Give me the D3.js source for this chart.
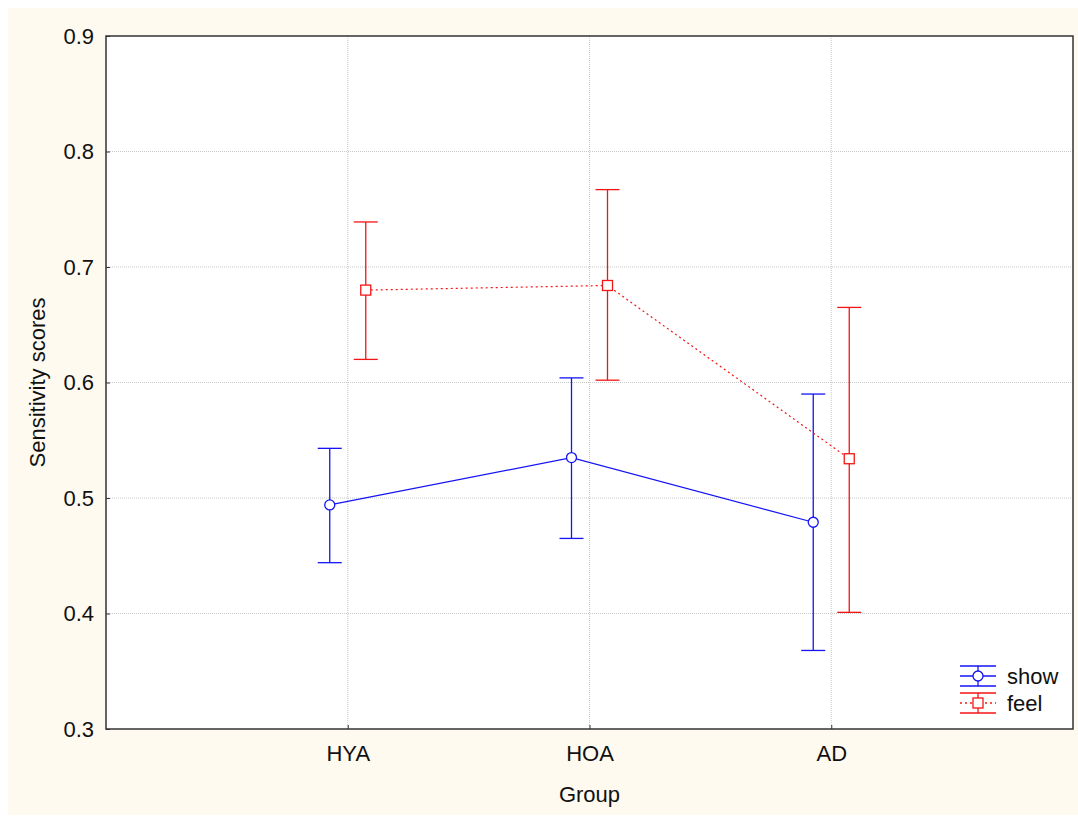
<!DOCTYPE html>
<html>
<head>
<meta charset="utf-8">
<script src="https://cdn.jsdelivr.net/npm/d3@7"></script>
<style>
  body { margin: 0; background: #fff; }
  text { font-family: "Liberation Sans", Arial, sans-serif; fill: #111; }
</style>
</head>
<body>
<div id="chart"></div>
<script>
//Datos
const groups = ['HYA', 'HOA', 'AD'];
const yTicks = [0.3, 0.4, 0.5, 0.6, 0.7, 0.8, 0.9];

const showMean = [0.494, 0.535, 0.479];
const showLow = [0.444, 0.465, 0.368];
const showHigh = [0.543, 0.604, 0.590];

const feelMean = [0.680, 0.684, 0.534];
const feelLow = [0.620, 0.602, 0.401];
const feelHigh = [0.739, 0.767, 0.665];

const series = [
    {name: 'show', mean: showMean, low: showLow, high: showHigh, color: '#1414f5', dash: null, shape: 'circle', offset: -18},
    {name: 'feel', mean: feelMean, low: feelLow, high: feelHigh, color: '#f51414', dash: '2,3', shape: 'square', offset: 18}
];

const W = 1078, H = 816;
const FONT = '22px';
let margin = {top: 36, right: 5, bottom: 87, left: 106},
    width = W - margin.left - margin.right,
    height = H - margin.top - margin.bottom;

let root = d3.select('#chart').append('svg')
    .attr('width', W)
    .attr('height', H);

//Fondo
root.append('rect')
    .attr('x', 8).attr('y', 8)
    .attr('width', W - 8).attr('height', H - 9)
    .attr('fill', '#fefaf0');

let svg = root.append('g')
    .attr('transform', 'translate(' + margin.left + ',' + margin.top + ')');

svg.append('rect')
    .attr('width', width).attr('height', height)
    .attr('fill', '#fff');

let x = d3.scalePoint()
    .domain(['', ...groups, ' '])
    .range([0, width]);

let y = d3.scaleLinear()
    .domain([0.3, 0.9])
    .range([height, 0]);

//Rejilla
svg.append('g').selectAll('line')
    .data(yTicks.slice(1, -1))
    .enter().append('line')
    .attr('x1', 0).attr('x2', width)
    .attr('y1', d => y(d)).attr('y2', d => y(d))
    .attr('stroke', '#c8c8c8').attr('stroke-dasharray', '1,1');

svg.append('g').selectAll('line')
    .data(groups)
    .enter().append('line')
    .attr('y1', 0).attr('y2', height)
    .attr('x1', d => x(d)).attr('x2', d => x(d))
    .attr('stroke', '#c8c8c8').attr('stroke-dasharray', '1,1');

//Ejes
let yAxis = svg.append('g')
    .call(d3.axisLeft(y).tickValues(yTicks).tickFormat(d3.format('.1f')).tickSize(-4).tickPadding(12));
yAxis.select('.domain').remove();
yAxis.selectAll('.tick line').attr('stroke', '#333');
yAxis.selectAll('text').style('font-size', FONT).attr('fill', '#111');

let xAxis = svg.append('g')
    .attr('transform', 'translate(0,' + height + ')')
    .call(d3.axisBottom(x).tickValues(groups).tickSize(-4).tickPadding(16));
xAxis.select('.domain').remove();
xAxis.selectAll('.tick line').attr('stroke', '#333');
xAxis.selectAll('text').style('font-size', FONT).attr('fill', '#111');

//Marco
svg.append('rect')
    .attr('width', width).attr('height', height)
    .attr('fill', 'none').attr('stroke', '#333').attr('stroke-width', 1.5);

//Series
series.forEach(function(s) {
    let g = svg.append('g');
    let px = (d, i) => x(groups[i]) + s.offset;

    g.append('path')
        .datum(s.mean)
        .attr('fill', 'none')
        .attr('stroke', s.color)
        .attr('stroke-width', 1.2)
        .attr('stroke-dasharray', s.dash)
        .attr('d', d3.line().x(px).y(d => y(d)));

    s.mean.forEach(function(m, i) {
        let cx = px(m, i);
        g.append('line')
            .attr('x1', cx).attr('x2', cx)
            .attr('y1', y(s.high[i])).attr('y2', y(s.low[i]))
            .attr('stroke', s.color).attr('stroke-width', 1.3);
        [s.high[i], s.low[i]].forEach(function(v) {
            g.append('line')
                .attr('x1', cx - 12).attr('x2', cx + 12)
                .attr('y1', y(v)).attr('y2', y(v))
                .attr('stroke', s.color).attr('stroke-width', 1.3);
        });
        if (s.shape == 'circle') {
            g.append('circle')
                .attr('cx', cx).attr('cy', y(m)).attr('r', 5)
                .attr('fill', '#fff').attr('stroke', s.color).attr('stroke-width', 1.3);
        } else {
            g.append('rect')
                .attr('x', cx - 5).attr('y', y(m) - 5)
                .attr('width', 10).attr('height', 10)
                .attr('fill', '#fff').attr('stroke', s.color).attr('stroke-width', 1.3);
        }
    });
});

//Leyenda
let legend = root.append('g');
series.forEach(function(s, i) {
    let cy = 676 + i * 27, cx = 978;
    let lg = legend.append('g');
    lg.append('line').attr('x1', cx - 18).attr('x2', cx + 18).attr('y1', cy).attr('y2', cy)
        .attr('stroke', s.color).attr('stroke-width', 1.3).attr('stroke-dasharray', s.dash);
    lg.append('line').attr('x1', cx).attr('x2', cx).attr('y1', cy - 10).attr('y2', cy + 10)
        .attr('stroke', s.color).attr('stroke-width', 1.3);
    [-10, 10].forEach(function(o) {
        lg.append('line').attr('x1', cx - 18).attr('x2', cx + 18).attr('y1', cy + o).attr('y2', cy + o)
            .attr('stroke', s.color).attr('stroke-width', 1.3);
    });
    if (s.shape == 'circle') {
        lg.append('circle').attr('cx', cx).attr('cy', cy).attr('r', 5)
            .attr('fill', '#fff').attr('stroke', s.color).attr('stroke-width', 1.3);
    } else {
        lg.append('rect').attr('x', cx - 5).attr('y', cy - 5).attr('width', 10).attr('height', 10)
            .attr('fill', '#fff').attr('stroke', s.color).attr('stroke-width', 1.3);
    }
    lg.append('text').attr('x', cx + 29).attr('y', cy).attr('dy', '0.35em')
        .style('font-size', FONT).text(s.name);
});

//Títulos de ejes
root.append('text')
    .attr('x', margin.left + width / 2).attr('y', 794).attr('dy', '0.35em')
    .attr('text-anchor', 'middle').style('font-size', FONT).text('Group');

root.append('text')
    .attr('transform', 'translate(37,' + (margin.top + height / 2) + ') rotate(-90)')
    .attr('dy', '0.35em')
    .attr('text-anchor', 'middle').style('font-size', FONT).text('Sensitivity scores');
</script>
</body>
</html>
